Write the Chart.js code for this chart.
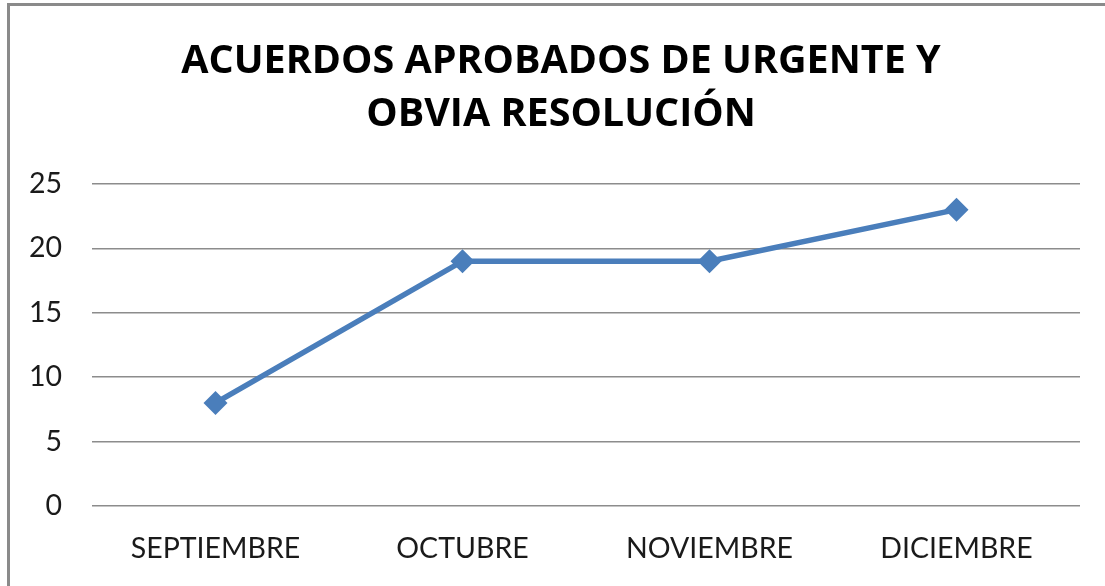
<!DOCTYPE html>
<html>
<head>
<meta charset="utf-8">
<script src="https://cdn.jsdelivr.net/npm/chart.js@4/dist/chart.umd.min.js"></script>
<style>
  html, body { margin: 0; padding: 0; background: #fff; overflow: hidden; }
  #frame {
    position: absolute; left: 7px; top: 3px;
    width: 1200px; height: 700px;
    border-left: 3px solid #8a8a8a;
    border-top: 3px solid #8a8a8a;
  }
  #chart { display: block; }
</style>
</head>
<body>
<div id="frame">
  <canvas id="chart" width="1095" height="580"></canvas>
</div>
<script>
// data
var months = ["SEPTIEMBRE", "OCTUBRE", "NOVIEMBRE", "DICIEMBRE"];
var acuerdos = [8, 19, 19, 23];
var titleLines = ["ACUERDOS APROBADOS DE URGENTE Y", "OBVIA RESOLUCIÓN"];
var yMin = 0, yMax = 25, yStep = 5;

var tickFont = "Lato, 'Liberation Sans', sans-serif";
var titleFont = "'Open Sans', Lato, sans-serif";
var blue = "#4a7ebb";

// title sits a bit right of the canvas centre in the original
var nudgeTitle = {
  id: "nudgeTitle",
  afterLayout: function(chart) {
    if (chart.titleBlock) {
      chart.titleBlock.left += 16;
      chart.titleBlock.right += 16;
    }
  }
};

var ctx = document.getElementById("chart");

var chart = new Chart(ctx, {
  type: "line",
  data: {
    labels: months,
    datasets: [{
      label: "Acuerdos",
      data: acuerdos,
      borderColor: blue,
      backgroundColor: blue,
      borderWidth: 5.5,
      fill: false,
      tension: 0,
      pointStyle: "rectRot",
      pointRadius: 12,
      pointHoverRadius: 12,
      pointBorderWidth: 0
    }]
  },
  options: {
    responsive: false,
    animation: false,
    layout: { padding: { left: 0, right: 25, top: 0, bottom: 0 } },
    plugins: {
      legend: { display: false },
      tooltip: { enabled: false },
      title: {
        display: true,
        text: titleLines,
        color: "#000",
        font: { family: titleFont, size: 39.5, weight: "bold", lineHeight: 1.34 },
        padding: { top: 29, bottom: 43 }
      }
    },
    scales: {
      x: {
        offset: true,
        grid: { display: false, drawTicks: false },
        border: { display: false },
        ticks: {
          color: "#1a1a1a",
          padding: 26,
          font: { family: tickFont, size: 28.5 },
          maxRotation: 0
        },
        afterFit: function(scale) { scale.height = 80; }
      },
      y: {
        min: yMin,
        max: yMax,
        grid: { color: "#8c8c8c", lineWidth: 1.5, drawTicks: false },
        border: { display: false },
        ticks: {
          stepSize: yStep,
          color: "#1a1a1a",
          padding: 30,
          font: { family: tickFont, size: 28.5 }
        },
        afterFit: function(scale) { scale.width = 82; }
      }
    }
  },
  plugins: [nudgeTitle]
});
</script>
</body>
</html>
